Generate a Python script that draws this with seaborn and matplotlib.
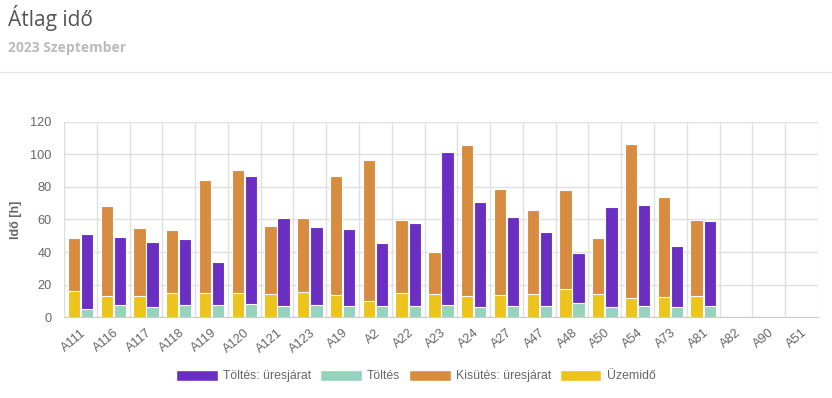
import numpy as np
import pandas as pd
import matplotlib
matplotlib.use("Agg")
import matplotlib.pyplot as plt
import seaborn as sns
from matplotlib.patches import Patch
from matplotlib.lines import Line2D

categories = ["A111", "A116", "A117", "A118", "A119", "A120", "A121", "A123",
              "A19", "A2", "A22", "A23", "A24", "A27", "A47", "A48", "A50",
              "A54", "A73", "A81", "A82", "A90", "A51"]

# left stack
uzemido = [15.8, 12.7, 13.2, 14.6, 14.6, 14.8, 14.2, 15.3, 13.6, 9.9, 14.8, 14.2,
           12.9, 13.8, 14.4, 17.1, 14.0, 11.5, 12.1, 12.7, 0, 0, 0]
kisutes_ures = [33.1, 55.7, 41.7, 38.8, 69.8, 75.8, 41.7, 45.5, 73.3, 86.9, 44.6, 25.5,
                93.1, 64.9, 51.6, 61.0, 34.7, 94.9, 61.5, 46.7, 0, 0, 0]
# right stack
toltes = [5.1, 7.4, 6.2, 7.2, 7.2, 8.0, 6.6, 7.4, 6.6, 6.8, 6.6, 7.2,
          6.2, 6.8, 6.8, 8.4, 6.4, 6.6, 6.2, 6.8, 0, 0, 0]
toltes_ures = [46.1, 41.7, 39.8, 40.9, 26.5, 78.9, 54.2, 47.9, 47.4, 38.8, 51.1, 94.3,
               64.3, 55.0, 45.4, 30.8, 61.0, 62.2, 37.4, 52.0, 0, 0, 0]

c_purple = "#6a2fc2"
c_teal = "#95d3bd"
c_orange = "#d88c40"
c_yellow = "#edc41c"

totals = pd.DataFrame({
    "cat": categories * 2,
    "stack": ["bal"] * len(categories) + ["jobb"] * len(categories),
    "val": list(np.add(uzemido, kisutes_ures)) + list(np.add(toltes, toltes_ures)),
})
bottoms = pd.DataFrame({
    "cat": categories * 2,
    "stack": ["bal"] * len(categories) + ["jobb"] * len(categories),
    "val": uzemido + toltes,
})

sns.set_style("white")
plt.rcParams["font.family"] = ["Liberation Sans", "DejaVu Sans"]

fig = plt.figure(figsize=(8.32, 3.98), dpi=100)
ax = fig.add_axes([0.077, 0.2035, 0.906, 0.49])

sns.barplot(data=totals, x="cat", y="val", hue="stack", order=categories,
            palette={"bal": c_orange, "jobb": c_purple}, width=0.8, gap=0.06,
            saturation=1, legend=False, ax=ax, zorder=3)
sns.barplot(data=bottoms, x="cat", y="val", hue="stack", order=categories,
            palette={"bal": c_yellow, "jobb": c_teal}, width=0.8, gap=0.06,
            saturation=1, legend=False, ax=ax, zorder=4)
for p in ax.patches:
    p.set_edgecolor((1, 1, 1, 0.45))
    p.set_linewidth(0.8)
    p.set_alpha(1)

ax.set_xlim(-0.5, len(categories) - 0.5)
ax.set_ylim(0, 120)
ax.set_yticks(range(0, 121, 20))
ax.set_xticks(range(len(categories)))
ax.set_xticklabels(categories, rotation=40, ha="right", rotation_mode="anchor")
ax.set_xticks(np.arange(-0.5, len(categories), 1), minor=True)
ax.tick_params(axis="x", which="major", length=0, pad=7, labelsize=9.2, labelcolor="#666666")
ax.tick_params(axis="x", which="minor", length=6, color="#dddddd", width=1)
ax.tick_params(axis="y", length=6, color="#dddddd", labelsize=9.2, labelcolor="#666666", pad=3)
ax.grid(True, axis="y", color="#e0e0e0", linewidth=1, zorder=0)
ax.grid(True, axis="x", which="minor", color="#e0e0e0", linewidth=1, zorder=0)
ax.grid(False, axis="x", which="major")
for s in ["top", "right"]:
    ax.spines[s].set_visible(False)
ax.spines["left"].set_color("#dddddd")
ax.spines["bottom"].set_color("#cccccc")
ax.set_xlabel("")
ax.set_ylabel("Idő [h]", fontsize=9, fontweight="bold", color="#666666", labelpad=6)

fig.text(0.01, 0.955, "Átlag idő", fontsize=15, color="#555555",
         family=["Open Sans", "DejaVu Sans"], va="center")
fig.text(0.01, 0.88, "2023 Szeptember", fontsize=10, color="#bbbbbb",
         fontweight="bold", family=["Open Sans", "DejaVu Sans"], va="center")
fig.add_artist(Line2D([0, 1], [0.818, 0.818], color="#e6e6e6", linewidth=1,
                      transform=fig.transFigure))

handles = [Patch(facecolor=c_purple, label="Töltés: üresjárat"),
           Patch(facecolor=c_teal, label="Töltés"),
           Patch(facecolor=c_orange, label="Kisütés: üresjárat"),
           Patch(facecolor=c_yellow, label="Üzemidő")]
leg = fig.legend(handles=handles, loc="center", bbox_to_anchor=(0.5, 0.055), ncol=4,
                 frameon=False, fontsize=8.8, handlelength=3.4, handleheight=1.0,
                 columnspacing=0.7, handletextpad=0.45)
for t in leg.get_texts():
    t.set_color("#666666")

fig.savefig("out.png", dpi=100)
